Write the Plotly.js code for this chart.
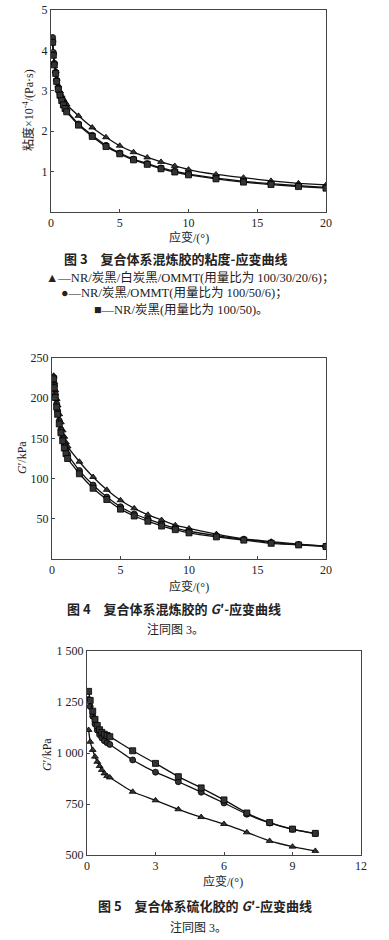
<!DOCTYPE html>
<html><head><meta charset="utf-8">
<script src="https://cdn.plot.ly/plotly-3.0.1.min.js"></script>
<style>html,body{margin:0;padding:0;background:#fff;}#chart{width:389px;height:940px;}</style>
</head><body><div id="chart"></div>
<script>
// ---- Figure 3: viscosity vs strain (mixed compound)
var strain1 = [0.12,0.17,0.24,0.34,0.41,0.53,0.65,0.78,0.9,1.02,1.14,2,3,4,5,6,7,8,9,10,12,14,16,18,20];
var viscTri = [4.25,3.93,3.70,3.49,3.30,3.13,2.99,2.88,2.79,2.72,2.66,2.38,2.09,1.85,1.64,1.48,1.35,1.24,1.14,1.05,0.93,0.85,0.77,0.71,0.67];
var viscCir = [4.32,3.95,3.68,3.46,3.26,3.07,2.92,2.79,2.68,2.59,2.51,2.18,1.90,1.65,1.46,1.31,1.20,1.09,1.01,0.94,0.84,0.76,0.70,0.65,0.61];
var viscSq  = [4.20,3.88,3.64,3.43,3.23,3.04,2.89,2.76,2.65,2.56,2.48,2.15,1.87,1.62,1.44,1.29,1.18,1.07,0.99,0.92,0.82,0.74,0.68,0.63,0.59];

// ---- Figure 4: G' vs strain (mixed compound)
var strain2 = [0.12,0.17,0.24,0.34,0.41,0.53,0.65,0.78,0.9,1.02,1.14,2,3,4,5,6,7,8,9,10,12,14,16,18,20];
var gTri2 = [228,220,210,199,191,180,170,160,152,145,140,121,102,86,73,63,55,48.5,42,38,31,25,21.5,18.5,16];
var gCir2 = [226,216,205,193,184,172,161,151,143,136,130,110,92,77,65,56,49.5,43.5,38.5,34.5,29,24.5,20.5,18,16];
var gSq2  = [224,213,201,189,180,168,157,147,138,131,125,106,88,74,62,53.5,47,41,36.5,32.5,27.5,23.5,19.5,17.5,15.5];

// ---- Figure 5: G' vs strain (vulcanizate)
var strain3 = [0.07,0.14,0.25,0.35,0.45,0.55,0.65,0.76,0.88,1,2,3,4,5,6,7,8,9,10];
var gTri3 = [1113,1055,1015,982,957,936,917,900,887,880,810,768,724,686,652,611,569,541,520];
var gCir3 = [1262,1228,1180,1142,1112,1090,1074,1060,1050,1042,966,906,859,808,755,700,657,626,605];
var gSq3  = [1302,1258,1205,1165,1135,1114,1101,1092,1086,1080,1011,949,884,829,770,706,659,627,606];

// ---- tick labels
var yTicks1 = [1,2,3,4,5], yTickText1 = ['1','2','3','4','5'];
var xTicks1 = [0,5,10,15,20];
var yTicks2 = [50,100,150,200,250], yTickText2 = ['50','100','150','200','250'];
var xTicks3 = [0,3,6,9,12];
var yTicks3 = [500,750,1000,1250,1500], yTickText3 = ['500','750','1 000','1 250','1 500'];

var W = 389, H = 940;
function px(x){return x/W;} function py(y){return 1-y/H;}

function tr(x,y,sym,xa,ya){
  return {x:x,y:y,type:'scatter',mode:'lines+markers',xaxis:xa,yaxis:ya,showlegend:false,
    line:{color:'#111',width:1.3,shape:'spline',smoothing:0.4},
    marker:{symbol:sym,size:6,color:'#333',line:{color:'#000',width:0.8}}};
}
var data = [
  tr(strain1,viscTri,'triangle-up','x','y'),
  tr(strain1,viscCir,'circle','x','y'),
  tr(strain1,viscSq,'square','x','y'),
  tr(strain2,gTri2,'triangle-up','x2','y2'),
  tr(strain2,gCir2,'circle','x2','y2'),
  tr(strain2,gSq2,'square','x2','y2'),
  tr(strain3,gTri3,'triangle-up','x3','y3'),
  tr(strain3,gCir3,'circle','x3','y3'),
  tr(strain3,gSq3,'square','x3','y3')
];

var tickFont = {family:'Liberation Serif, DejaVu Serif, serif',size:12,color:'#222'};
function ax(domain, range, extra){
  var a = {domain:domain, range:range, showline:true, mirror:true, linecolor:'#444', linewidth:1,
    ticks:'inside', ticklen:3, tickcolor:'#444', showgrid:false, zeroline:false,
    tickfont:tickFont, fixedrange:true};
  for (var k in extra) a[k]=extra[k];
  return a;
}

var cjk = 'Liberation Serif, Noto Sans CJK SC, serif';
var cjkBold = 'Noto Sans CJK SC, sans-serif';
function ann(text,x,y,size,opt){
  var a = {text:text,x:px(x),y:py(y),xref:'paper',yref:'paper',showarrow:false,
    xanchor:'center',yanchor:'middle',font:{family:cjk,size:size,color:'#222'}};
  if(opt){for(var k in opt) a[k]=opt[k];}
  return a;
}
var capFont = {family:cjkBold,size:13,color:'#222'};

var layout = {
  width:W, height:H, margin:{l:0,r:0,t:0,b:0}, paper_bgcolor:'#fff', plot_bgcolor:'#fff',
  xaxis: ax([px(51),px(326)],[0,20],{tickvals:xTicks1,anchor:'y'}),
  yaxis: ax([py(212),py(10)],[0,5],{tickvals:yTicks1,ticktext:yTickText1,anchor:'x'}),
  xaxis2: ax([px(52),px(326)],[0,20],{tickvals:xTicks1,anchor:'y2'}),
  yaxis2: ax([py(559),py(358)],[0,250],{tickvals:yTicks2,ticktext:yTickText2,anchor:'x2'}),
  xaxis3: ax([px(87),px(361)],[0,12],{tickvals:xTicks3,anchor:'y3'}),
  yaxis3: ax([py(855),py(651)],[500,1500],{tickvals:yTicks3,ticktext:yTickText3,anchor:'x3'}),
  annotations:[
    ann('粘度×10<sup>-4</sup>/(Pa·s)',28,110,12,{textangle:-90}),
    ann('应变/(°)',189,237,12),
    ann('<b>图 3　复合体系混炼胶的粘度-应变曲线</b>',175,258,13,{font:capFont}),
    ann('▲—NR/炭黑/白炭黑/OMMT(用量比为 100/30/20/6)；',190,277,12.5),
    ann('●—NR/炭黑/OMMT(用量比为 100/50/6)；',174,293,12.5),
    ann('■—NR/炭黑(用量比为 100/50)。',181,310,12.5),

    ann('<i>G</i>′/kPa',22,458,12,{textangle:-90}),
    ann('应变/(°)',189,586,12),
    ann('<b>图 4　复合体系混炼胶的 <i>G</i>′-应变曲线</b>',174,608,13,{font:capFont}),
    ann('注同图 3。',175,629,12),

    ann('<i>G</i>′/kPa',47,755,12,{textangle:-90}),
    ann('应变/(°)',223,881,12),
    ann('<b>图 5　复合体系硫化胶的 <i>G</i>′-应变曲线</b>',205,905,13,{font:capFont}),
    ann('注同图 3。',198,927,12)
  ]
};
Plotly.newPlot('chart',data,layout,{displayModeBar:false,staticPlot:true});
</script></body></html>
